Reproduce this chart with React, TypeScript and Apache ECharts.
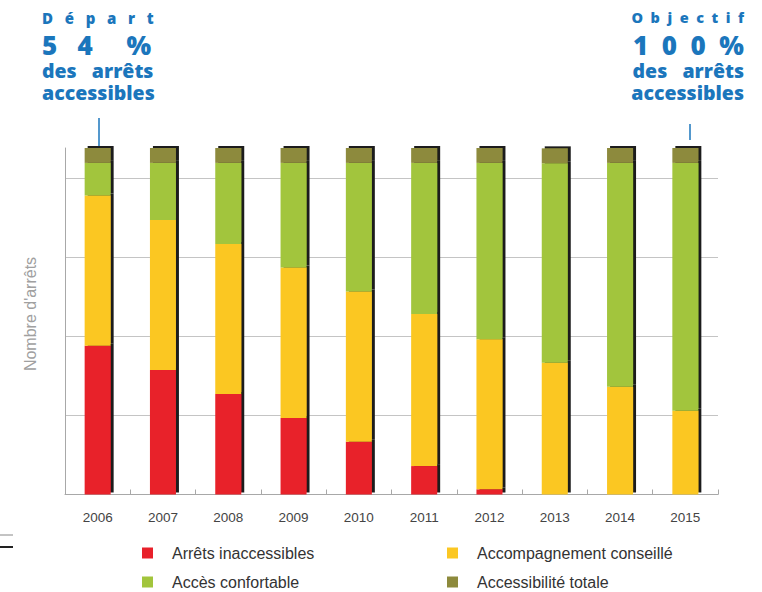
import React, { useEffect, useRef } from "react";
import * as echarts from "echarts";

const categories = ["2006", "2007", "2008", "2009", "2010", "2011", "2012", "2013", "2014", "2015"];
const inaccessibles = [42.9, 35.9, 29.0, 22.1, 15.2, 8.2, 1.5, 0, 0, 0];
const accompagnement = [43.4, 43.3, 43.3, 43.4, 43.4, 43.9, 43.3, 38.0, 31.1, 24.2];
const confortable = [9.4, 16.5, 23.4, 30.2, 37.1, 43.6, 50.9, 57.6, 64.6, 71.5];
const totale = [4.3, 4.3, 4.3, 4.3, 4.3, 4.3, 4.3, 4.3, 4.3, 4.3];

const seriesNames = ["Arrêts inaccessibles", "Accompagnement conseillé", "Accès confortable", "Accessibilité totale"];
const seriesColors = ["#e8202a", "#fbc723", "#a2c53c", "#8d8a3c"];
const seriesData = [inaccessibles, accompagnement, confortable, totale];

const leftBlock = ["D   é   p   a   r   t", "5   4     %", "des   arrêts", "accessibles"];
const rightBlock = ["O  b  j  e  c  t  i  f", "1  0  0  %", "des   arrêts", "accessibles"];
const yAxisTitle = "Nombre d'arrêts";

const BLUE = "#1b76bc";

export default function App() {
  const ref = useRef<HTMLDivElement>(null);
  useEffect(() => {
    if (!ref.current) return;
    const chart = echarts.init(ref.current, undefined, { renderer: "svg" });
    const lineYs = [17.5, 44.5, 70, 92];
    const sizesLeft = [15, 26, 19.5, 19.5];
    const sizesRight = [14.5, 26, 19.5, 19.5];
    const mkText = (text: string, x: number, y: number, size: number, align: string) => ({
      type: "text",
      x,
      y,
      style: {
        text,
        fill: BLUE,
        fontSize: size,
        fontWeight: 800,
        fontFamily: "Open Sans",
        align,
        verticalAlign: "middle",
        textAlign: align,
        textVerticalAlign: "middle",
      },
    });
    const graphics: any[] = [];
    leftBlock.forEach((t, i) => graphics.push(mkText(t, 42, lineYs[i], sizesLeft[i], "left")));
    rightBlock.forEach((t, i) => graphics.push(mkText(t, 744, lineYs[i], sizesRight[i], "right")));
    graphics.push({ type: "line", shape: { x1: 99, y1: 118, x2: 99, y2: 146 }, style: { stroke: BLUE, lineWidth: 1.5 } });
    graphics.push({ type: "line", shape: { x1: 690, y1: 124, x2: 690, y2: 140 }, style: { stroke: BLUE, lineWidth: 1.5 } });
    graphics.push({ type: "line", shape: { x1: 0, y1: 535, x2: 13, y2: 535 }, style: { stroke: "#888", lineWidth: 1 } });
    graphics.push({ type: "line", shape: { x1: 0, y1: 547, x2: 13, y2: 547 }, style: { stroke: "#222", lineWidth: 2 } });
    graphics.push({
      type: "text",
      x: 30,
      y: 314,
      rotation: Math.PI / 2,
      style: {
        text: yAxisTitle,
        fill: "#a0a0a0",
        fontSize: 16,
        fontFamily: "Liberation Sans",
        align: "center",
        verticalAlign: "middle",
        textAlign: "center",
        textVerticalAlign: "middle",
      },
    });

    const mkLegend = (left: number, data: string[]) => ({
      orient: "vertical",
      left,
      top: 545,
      height: 47,
      padding: 0,
      itemWidth: 11,
      itemHeight: 11,
      itemGap: 13,
      icon: "rect",
      data,
      textStyle: { fontSize: 16, color: "#333", fontFamily: "Liberation Sans", padding: [0, 0, 0, 14] },
      itemStyle: { shadowBlur: 0, shadowOffsetX: 0, shadowOffsetY: 0, shadowColor: "rgba(0,0,0,0)" },
    });

    chart.setOption({
      animation: false,
      backgroundColor: "#ffffff",
      grid: { left: 65, right: 44, top: 148, bottom: 97.5, outerBoundsMode: "none", containLabel: false },
      legend: [mkLegend(142, [seriesNames[0], seriesNames[2]]), mkLegend(447, [seriesNames[1], seriesNames[3]])],
      xAxis: {
        type: "category",
        data: categories,
        boundaryGap: true,
        axisLine: { lineStyle: { color: "#a8a8a8", width: 1 } },
        axisTick: { show: true, inside: true, length: 5, lineStyle: { color: "#a8a8a8" } },
        axisLabel: { color: "#444", fontSize: 13.5, fontFamily: "Liberation Sans", margin: 16 },
      },
      yAxis: {
        type: "value",
        min: 0,
        max: 100,
        interval: 22.8,
        axisLabel: { show: false },
        axisTick: { show: false },
        axisLine: { show: true, lineStyle: { color: "#a8a8a8" } },
        splitLine: { show: true, showMaxLine: false, lineStyle: { color: "#c4c4c4" } },
      },
      series: seriesNames.map((name, i) => ({
        name,
        type: "bar",
        stack: "total",
        barWidth: 26,
        clip: false,
        data: seriesData[i],
        itemStyle: {
          color: seriesColors[i],
          shadowColor: "#1a1a1a",
          shadowBlur: 0,
          shadowOffsetX: 3,
          shadowOffsetY: -2,
        },
        emphasis: { disabled: true },
      })),
      graphic: graphics,
    });
    return () => chart.dispose();
  }, []);
  return (
    <div
      ref={ref}
      style={{ position: "fixed", left: 0, top: 0, width: 762, height: 592, background: "#fff" }}
    />
  );
}
